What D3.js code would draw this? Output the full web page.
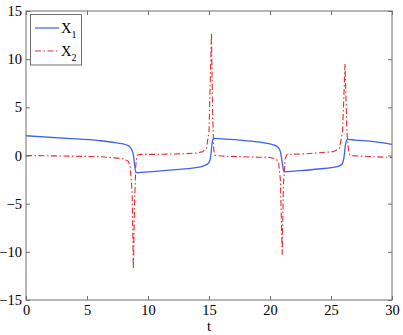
<!DOCTYPE html>
<html>
<head>
<meta charset="utf-8">
<script src="https://cdn.jsdelivr.net/npm/d3@7"></script>
<style>
  body { margin: 0; background: #fff; }
  svg { display: block; }
</style>
</head>
<body>
<svg id="chart" width="403" height="335"></svg>
<script>
// values
const tX1 = [0, 3.3, 6, 7.3, 8.25, 8.5, 8.7, 8.8, 8.9, 9.0, 9.2, 10, 12, 13.9, 14.5, 14.95, 15.1, 15.2, 15.3, 15.4, 16, 17.5, 19, 20, 20.5, 20.8, 20.95, 21.1, 21.2, 22, 24, 25.5, 25.9, 26.05, 26.2, 26.35, 27, 28.5, 30];
const x1 = [2.05, 1.78, 1.54, 1.33, 1.09, 0.9, 0.5, 0.1, -1.0, -1.75, -1.78, -1.7, -1.5, -1.27, -1.1, -0.8, -0.4, 0.6, 1.6, 1.78, 1.72, 1.6, 1.42, 1.2, 1.0, 0.6, -0.3, -1.5, -1.7, -1.62, -1.4, -1.15, -0.9, -0.3, 1.2, 1.68, 1.6, 1.45, 1.16];

const tX2 = [0, 3, 6, 7.3, 8.0, 8.4, 8.55, 8.7, 8.8, 8.9, 9.0, 9.1, 9.3, 11, 13, 13.9, 14.5, 14.8, 15.0, 15.2, 15.3, 15.4, 15.5, 16, 17.5, 19, 20, 20.5, 20.7, 20.85, 21.0, 21.1, 21.25, 21.4, 23, 25.2, 25.7, 25.95, 26.15, 26.3, 26.45, 26.6, 28, 30];
const x2 = [0, -0.05, -0.12, -0.25, -0.35, -0.6, -1.2, -4, -11.8, -5, -1, 0, 0.12, 0.12, 0.18, 0.25, 0.4, 0.8, 2.5, 12.7, 4, 0.5, 0, -0.05, -0.12, -0.18, -0.2, -0.35, -0.7, -2.5, -10.3, -3, -0.3, 0.12, 0.18, 0.4, 0.75, 2.5, 9.5, 2.5, 0.3, 0, -0.1, -0.2];

const xTicks = [0, 5, 10, 15, 20, 25, 30];
const yTicks = [-15, -10, -5, 0, 5, 10, 15];

const margin = {left: 26, right: 11, top: 11, bottom: 35};
const width = 403, height = 335;

const svg = d3.select("#chart");

const x = d3.scaleLinear().domain([0, 30]).range([margin.left, width - margin.right]);
const y = d3.scaleLinear().domain([-15, 15]).range([height - margin.bottom, margin.top]);

const axisColor = "#707070";
const font = "'Liberation Serif', 'Times New Roman', serif";

// ticks inward on all four sides
svg.append("g")
    .attr("transform", `translate(0,${y(-15)})`)
    .call(d3.axisBottom(x).tickValues(xTicks).tickSizeInner(-4).tickSizeOuter(0).tickPadding(5))
    .call(g => g.select(".domain").remove());
svg.append("g")
    .attr("transform", `translate(0,${y(15)})`)
    .call(d3.axisTop(x).tickValues(xTicks).tickSizeInner(-4).tickSizeOuter(0).tickFormat(""))
    .call(g => g.select(".domain").remove());
svg.append("g")
    .attr("transform", `translate(${x(0)},0)`)
    .call(d3.axisLeft(y).tickValues(yTicks).tickSizeInner(-4).tickSizeOuter(0).tickPadding(4)
        .tickFormat(d => d < 0 ? "\u2212" + Math.abs(d) : d))
    .call(g => g.select(".domain").remove());
svg.append("g")
    .attr("transform", `translate(${x(30)},0)`)
    .call(d3.axisRight(y).tickValues(yTicks).tickSizeInner(-4).tickSizeOuter(0).tickFormat(""))
    .call(g => g.select(".domain").remove());

svg.selectAll(".tick line").attr("stroke", axisColor);
svg.selectAll(".tick text")
    .attr("font-family", font)
    .attr("font-size", 14.5)
    .attr("fill", "#000");

svg.append("rect")
    .attr("x", x(0))
    .attr("y", y(15))
    .attr("width", x(30) - x(0))
    .attr("height", y(-15) - y(15))
    .attr("fill", "none")
    .attr("stroke", axisColor)
    .attr("stroke-width", 1);

svg.append("text")
    .attr("x", (x(0) + x(30)) / 2)
    .attr("y", 331)
    .attr("text-anchor", "middle")
    .attr("font-family", font)
    .attr("font-size", 14.5)
    .text("t");

const line = d3.line()
    .x(d => x(d[0]))
    .y(d => y(d[1]));

svg.append("path")
    .datum(d3.zip(tX2, x2))
    .attr("fill", "none")
    .attr("stroke", "#ee2a2a")
    .attr("stroke-width", 1.1)
    .attr("stroke-dasharray", "6,2.5,1.5,2.5")
    .attr("d", line);

svg.append("path")
    .datum(d3.zip(tX1, x1))
    .attr("fill", "none")
    .attr("stroke", "#3f62ee")
    .attr("stroke-width", 1.3)
    .attr("d", line.curve(d3.curveMonotoneX));

// legend
const legend = svg.append("g");
legend.append("rect")
    .attr("x", 30.5).attr("y", 14.5)
    .attr("width", 51).attr("height", 50.5)
    .attr("fill", "#fff")
    .attr("stroke", axisColor);

const entries = [
    {sub: "1", color: "#3f62ee", dash: null, yy: 28},
    {sub: "2", color: "#ee2a2a", dash: "6,2.5,1.5,2.5", yy: 51}
];
entries.forEach(e => {
    legend.append("line")
        .attr("x1", 35).attr("x2", 59)
        .attr("y1", e.yy).attr("y2", e.yy)
        .attr("stroke", e.color)
        .attr("stroke-width", 1.2)
        .attr("stroke-dasharray", e.dash);
    const t = legend.append("text")
        .attr("x", 61).attr("y", e.yy + 5)
        .attr("font-family", font)
        .attr("font-size", 14.5);
    t.append("tspan").text("X");
    t.append("tspan").attr("dy", 5).attr("font-size", 10).text(e.sub);
});
</script>
</body>
</html>
